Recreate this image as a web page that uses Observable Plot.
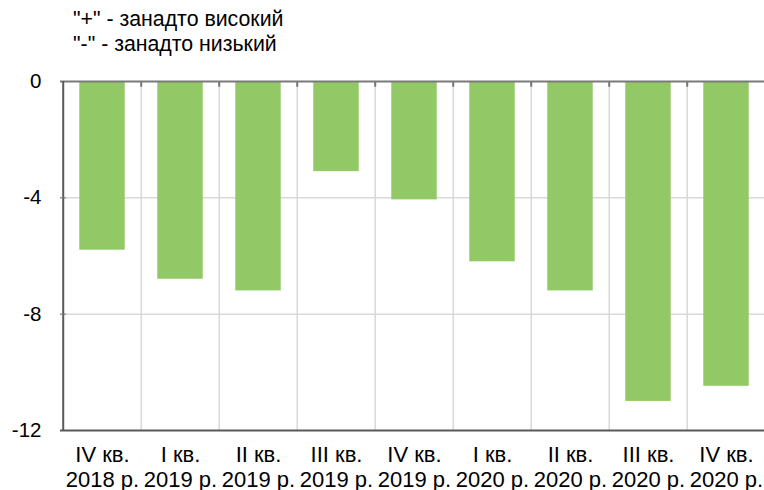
<!DOCTYPE html>
<html><head><meta charset="utf-8">
<script src="https://cdn.jsdelivr.net/npm/d3@7"></script>
<script src="https://cdn.jsdelivr.net/npm/@observablehq/plot@0.6"></script>
<style>
body{margin:0;background:#fff;overflow:hidden;font-family:"Liberation Sans",Arial,sans-serif;}
#title{height:60px;box-sizing:border-box;padding:7px 0 0 73px;font-size:21.3px;line-height:25px;color:#000;}
#chart svg{display:block;}
</style></head><body>
<div id="title"><div>"+" - занадто високий</div><div>"-" - занадто низький</div></div>
<div id="chart"></div>
<script>
const quarters = ["IV кв.","I кв.","II кв.","III кв.","IV кв.","I кв.","II кв.","III кв.","IV кв."];
const years = ["2018 р.","2019 р.","2019 р.","2019 р.","2019 р.","2020 р.","2020 р.","2020 р.","2020 р."];
const values = [-5.8,-6.8,-7.2,-3.1,-4.07,-6.2,-7.2,-11.0,-10.48];
const yTicks = [0,-4,-8,-12];

const categories = quarters.map((q,i)=>q+"\n"+years[i]);
const data = categories.map((c,i)=>({cat:c, val:values[i]}));

const W = 764, H = 430, mL = 60, mT = 21, mB = 60, xEnd = 767;
const bw = (xEnd - mL) / categories.length;
const barW = 46;
const inset = (bw - barW) / 2;

const chart = Plot.plot({
  width: W, height: H,
  marginLeft: mL, marginRight: 0, marginTop: mT, marginBottom: mB,
  style: {fontSize: "20px", fontFamily: "'Liberation Sans', Arial, sans-serif", color: "#000", background: "#fff"},
  x: {domain: categories, range: [mL, xEnd], padding: 0},
  y: {domain: [-12, 0]},
  marks: [
    Plot.ruleY(yTicks.slice(1, 3), {y: d => d, stroke: "#d9d9d9", strokeWidth: 1.5}),
    Plot.ruleX(categories.slice(1), {x: d => d, dx: -bw/2, stroke: "#d9d9d9", strokeWidth: 1.5}),
    Plot.barY(data, {x: "cat", y: "val", fill: "#93c866", insetLeft: inset, insetRight: inset}),
    Plot.ruleX(categories.slice(1), {x: d => d, dx: -bw/2, y1: 0, y2: -0.2, stroke: "#777", strokeWidth: 2}),
    Plot.ruleY([0], {stroke: "#7a7a7a", strokeWidth: 2}),
    Plot.ruleY([-12], {stroke: "#595959", strokeWidth: 2}),
    Plot.ruleX([categories[0]], {x: d => d, dx: -bw/2, stroke: "#595959", strokeWidth: 2}),
    Plot.axisY({ticks: yTicks, tickSize: 0, tickPadding: 19, fontSize: 20.5, tickFormat: d => String(d).replace("−","-"), label: null}),
    Plot.axisY({ticks: yTicks.slice(1, 3), tickSize: -6, text: null, stroke: "#777", label: null}),
    Plot.axisX({tickSize: 0, tickPadding: 13.9, fontSize: 22, lineHeight: 1.136, label: null})
  ]
});
document.getElementById("chart").appendChild(chart);
</script>
</body></html>
